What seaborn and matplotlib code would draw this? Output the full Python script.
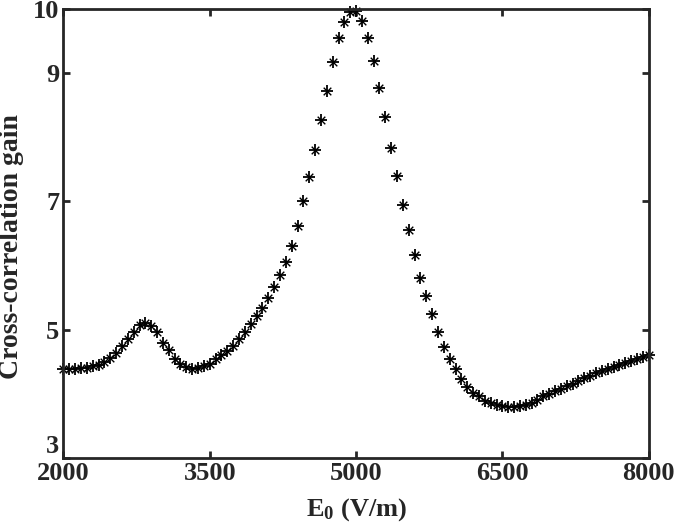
import matplotlib
matplotlib.use('Agg')

import numpy as np
import pandas as pd
import matplotlib.pyplot as plt
import seaborn as sns

# ==============================
# DATA
# ==============================
e0 = np.arange(2000, 8001, 60)  # V/m

gain = [
    4.38, 4.38, 4.39, 4.40, 4.41, 4.43, 4.45, 4.50, 4.56, 4.64,
    4.74, 4.85, 4.97, 5.08, 5.11, 5.06, 4.97, 4.80, 4.69, 4.55,
    4.46, 4.42, 4.39, 4.41, 4.43, 4.47, 4.54, 4.61, 4.67, 4.75,
    4.86, 4.97, 5.09, 5.21, 5.34, 5.50, 5.67, 5.86, 6.06, 6.31,
    6.61, 7.00, 7.38, 7.80, 8.27, 8.72, 9.17, 9.55, 9.80, 9.96,
    9.97, 9.82, 9.55, 9.19, 8.77, 8.31, 7.84, 7.39, 6.94, 6.55,
    6.16, 5.81, 5.52, 5.25, 4.97, 4.73, 4.55, 4.39, 4.23, 4.11,
    4.02, 3.96, 3.89, 3.86, 3.83, 3.81, 3.80, 3.80, 3.81, 3.83,
    3.86, 3.91, 3.96, 4.00, 4.04, 4.08, 4.12, 4.16, 4.20, 4.24,
    4.28, 4.32, 4.36, 4.39, 4.42, 4.45, 4.48, 4.51, 4.54, 4.57,
    4.60,
]

xticks = [2000, 3500, 5000, 6500, 8000]
yticks = [3, 5, 7, 9, 10]

df = pd.DataFrame({"E0": e0, "gain": gain})

# ==============================
# STYLE
# ==============================
sns.set_style("ticks")
plt.rcParams['font.family'] = ['Liberation Serif', 'DejaVu Serif']
plt.rcParams['font.weight'] = 'bold'
plt.rcParams['mathtext.fontset'] = 'custom'
plt.rcParams['mathtext.rm'] = 'Liberation Serif:bold'
plt.rcParams['mathtext.bf'] = 'Liberation Serif:bold'
plt.rcParams['mathtext.it'] = 'Liberation Serif:bold'

# ==============================
# PLOT
# ==============================
fig = plt.figure(figsize=(6.75, 5.31), dpi=100)
ax = fig.add_axes([0.094, 0.1375, 0.867, 0.8455])

# matlab-style asterisk: a "+" with a smaller "x" on top
sns.scatterplot(data=df, x="E0", y="gain", ax=ax,
                marker="+", s=70, color="black",
                linewidth=1.3, clip_on=False)
sns.scatterplot(data=df, x="E0", y="gain", ax=ax,
                marker="x", s=30, color="black",
                linewidth=1.0, clip_on=False)

ax.set_xlim(2000, 8000)
ax.set_ylim(3, 10)
ax.set_xticks(xticks)
ax.set_yticks(yticks)
ax.tick_params(direction='in', length=5, width=2, labelsize=19,
               top=True, right=True, pad=3)
for lab in ax.get_xticklabels() + ax.get_yticklabels():
    lab.set_fontweight('bold')
# lowest y label sits just above the "2000" label, like the original
ax.get_yticklabels()[0].set_va('bottom')
for sp in ax.spines.values():
    sp.set_linewidth(2)
    sp.set_visible(True)

ax.set_xlabel(r'E$_{\mathrm{0}}$ (V/m)', fontsize=19, fontweight='bold')
ax.set_ylabel('Cross-correlation gain', fontsize=20, fontweight='bold')
ax.xaxis.set_label_coords(0.5, -0.085)
ax.yaxis.set_label_coords(-0.068, 0.47)

fig.savefig("out.png", dpi=100)
plt.close()
